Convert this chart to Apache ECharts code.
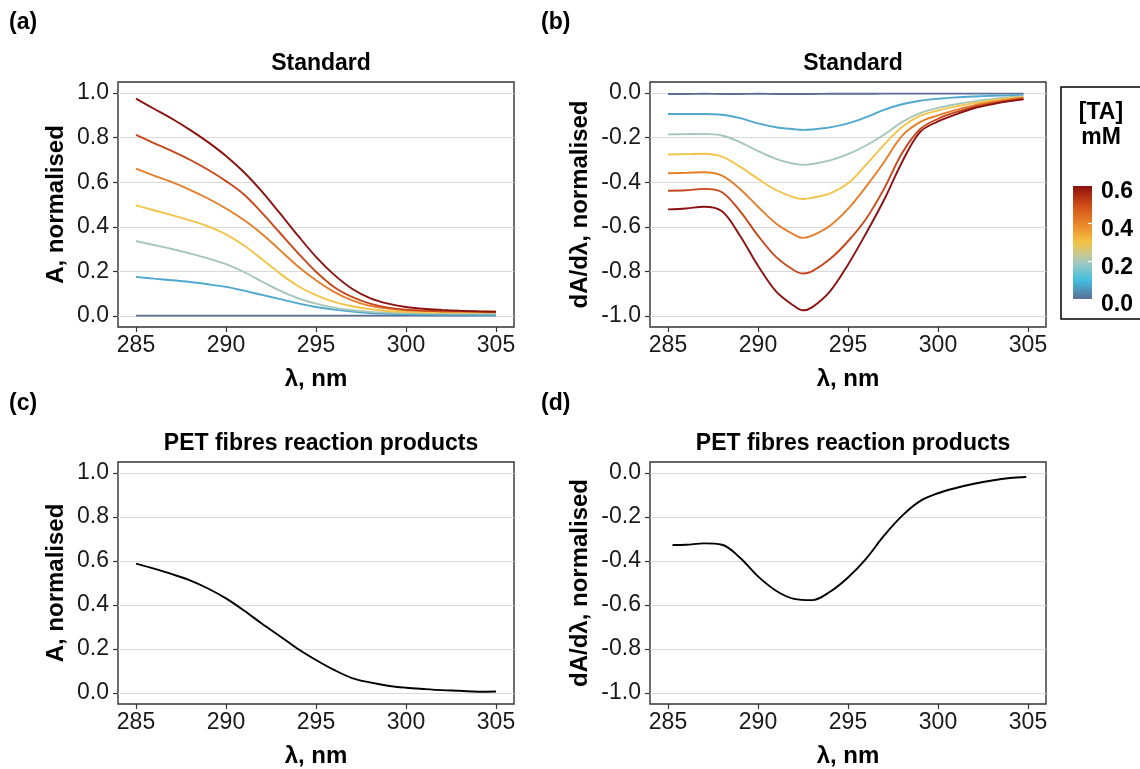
<!DOCTYPE html>
<html>
<head>
<meta charset="utf-8">
<script src="https://cdn.jsdelivr.net/npm/echarts@6/dist/echarts.min.js"></script>
<style>
html,body{margin:0;padding:0;background:#fff;}
#chart{width:1140px;height:769px;}
</style>
</head>
<body>
<div id="chart"></div>
<script>
// ---------- data ----------
const concentrations = [0.0, 0.1, 0.2, 0.3, 0.4, 0.5, 0.6];
const lineColors = ['#5b6e95', '#4fa8cd', '#a6c6b8', '#f3c44a', '#e47e2a', '#c6471c', '#8c1212'];
const barStops = ['#5a6e97', '#42bfe0', '#a8cbbd', '#f3c444', '#ea852a', '#cf4c18', '#8b0f0c'];

const wlA = [285,286,287,288,289,290,291,292,293,294,295,296,297,298,299,300,301,302,303,304,305];
const absA00 = [0.001,0.001,0.001,0.001,0.001,0.001,0.001,0.001,0.001,0.001,0.001,0.001,0.001,0.001,0.001,0.001,0.001,0.001,0.001,0.001,0.001];
const absA01 = [0.175,0.167,0.160,0.152,0.142,0.130,0.113,0.094,0.075,0.056,0.040,0.028,0.019,0.013,0.009,0.007,0.006,0.005,0.005,0.004,0.004];
const absA02 = [0.336,0.318,0.300,0.280,0.258,0.232,0.197,0.154,0.113,0.079,0.055,0.037,0.025,0.018,0.015,0.013,0.012,0.011,0.010,0.010,0.010];
const absA03 = [0.496,0.474,0.452,0.429,0.402,0.366,0.316,0.254,0.190,0.134,0.093,0.063,0.043,0.030,0.022,0.018,0.016,0.015,0.015,0.015,0.015];
const absA04 = [0.661,0.630,0.600,0.566,0.527,0.482,0.430,0.368,0.295,0.222,0.160,0.108,0.070,0.045,0.033,0.025,0.022,0.021,0.020,0.020,0.020];
const absA05 = [0.813,0.776,0.740,0.701,0.656,0.605,0.545,0.462,0.372,0.282,0.198,0.130,0.085,0.055,0.037,0.028,0.024,0.021,0.020,0.019,0.018];
const absA06 = [0.975,0.930,0.885,0.835,0.780,0.718,0.645,0.558,0.460,0.360,0.265,0.185,0.122,0.080,0.055,0.040,0.032,0.027,0.023,0.020,0.018];

const wlB = [285,286,287,288,289,290,291,292,292.5,293,294,295,296,297,298,299,300,301,302,303,304,304.75];
const derB00 = [-0.004,-0.004,-0.003,-0.004,-0.004,-0.003,-0.004,-0.004,-0.004,-0.004,-0.003,-0.003,-0.003,-0.002,-0.002,-0.002,-0.002,-0.002,-0.002,-0.002,-0.002,-0.002];
const derB01 = [-0.094,-0.094,-0.094,-0.097,-0.112,-0.136,-0.153,-0.162,-0.165,-0.163,-0.154,-0.136,-0.108,-0.075,-0.050,-0.034,-0.025,-0.019,-0.015,-0.012,-0.010,-0.008];
const derB02 = [-0.185,-0.184,-0.183,-0.190,-0.220,-0.260,-0.295,-0.317,-0.322,-0.318,-0.302,-0.274,-0.235,-0.187,-0.130,-0.090,-0.066,-0.050,-0.037,-0.027,-0.018,-0.014];
const derB03 = [-0.275,-0.274,-0.272,-0.285,-0.330,-0.385,-0.435,-0.468,-0.475,-0.470,-0.450,-0.405,-0.322,-0.232,-0.152,-0.102,-0.078,-0.060,-0.045,-0.033,-0.023,-0.018];
const derB04 = [-0.360,-0.358,-0.355,-0.370,-0.430,-0.510,-0.585,-0.635,-0.650,-0.640,-0.595,-0.520,-0.420,-0.310,-0.192,-0.130,-0.100,-0.075,-0.055,-0.040,-0.028,-0.022];
const derB05 = [-0.438,-0.436,-0.430,-0.445,-0.530,-0.640,-0.735,-0.795,-0.810,-0.800,-0.745,-0.665,-0.565,-0.430,-0.270,-0.162,-0.115,-0.085,-0.062,-0.046,-0.033,-0.025];
const derB06 = [-0.522,-0.518,-0.510,-0.530,-0.640,-0.775,-0.890,-0.955,-0.975,-0.962,-0.890,-0.770,-0.630,-0.480,-0.310,-0.175,-0.127,-0.095,-0.068,-0.050,-0.036,-0.028];

const wlC = [285,286,287,288,289,290,291,292,293,294,295,296,297,298,299,300,301,302,303,304,305];
const absPET = [0.588,0.565,0.540,0.512,0.475,0.430,0.375,0.315,0.258,0.200,0.150,0.105,0.068,0.048,0.033,0.024,0.018,0.013,0.010,0.006,0.007];

const wlD = [285.25,286,287,288,289,290,291,292,293,294,295,296,297,298,299,300,301,302,303,304,304.9];
const derPET = [-0.327,-0.326,-0.320,-0.326,-0.385,-0.470,-0.535,-0.572,-0.578,-0.540,-0.475,-0.390,-0.285,-0.195,-0.128,-0.092,-0.068,-0.049,-0.034,-0.023,-0.018];

const xTicks = [285, 290, 295, 300, 305];
const yTicksAbs = [0.0, 0.2, 0.4, 0.6, 0.8, 1.0];
const yTicksDer = [-1.0, -0.8, -0.6, -0.4, -0.2, 0.0];
const barTicks = [0.0, 0.2, 0.4, 0.6];
const barInnerTicks = [0.2, 0.4];
const colorbarValue = [0.6];

const absStd = [absA00, absA01, absA02, absA03, absA04, absA05, absA06];
const derStd = [derB00, derB01, derB02, derB03, derB04, derB05, derB06];

// ---------- chart ----------
const FONT = 'Liberation Sans, Arial, sans-serif';
const chart = echarts.init(document.getElementById('chart'), null, {renderer: 'canvas'});

function zip(xs, ys) { return xs.map((x, i) => [x, ys[i]]); }

function xAx(g) {
  return {
    type: 'value', gridIndex: g, min: 284, max: 306, position: 'bottom',
    name: 'λ, nm', nameLocation: 'middle', nameGap: 40,
    nameTextStyle: {fontSize: 24, fontWeight: 'bold', color: '#000', fontFamily: FONT},
    axisLine: {show: false, onZero: false},
    axisTick: {show: true, length: 5, customValues: xTicks, lineStyle: {color: '#333', width: 1.2}},
    axisLabel: {customValues: xTicks, fontSize: 23, color: '#1a1a1a', margin: 7, fontFamily: FONT},
    splitLine: {show: false}
  };
}
function yAx(g, min, max, ticks, name, gap) {
  return {
    type: 'value', gridIndex: g, min: min, max: max, position: 'left',
    name: name, nameLocation: 'middle', nameGap: gap,
    nameTextStyle: {fontSize: 24, fontWeight: 'bold', color: '#000', fontFamily: FONT},
    axisLine: {show: false, onZero: false},
    axisTick: {show: true, length: 5, customValues: ticks, lineStyle: {color: '#333', width: 1.2}},
    axisLabel: {customValues: ticks, fontSize: 23, color: '#1a1a1a', margin: 9, fontFamily: FONT,
      formatter: v => v.toFixed(1)},
    splitLine: {show: true, lineStyle: {color: '#d9d9d9', width: 1.2}}
  };
}

const gridBase = {show: true, borderColor: '#333', borderWidth: 1.4, backgroundColor: 'rgba(0,0,0,0)'};

const series = [];
concentrations.forEach((c, i) => {
  series.push({type: 'line', xAxisIndex: 0, yAxisIndex: 0, data: zip(wlA, absStd[i]),
    showSymbol: false, smooth: 0.35, lineStyle: {color: lineColors[i], width: 1.9}, z: 2 + i, silent: true});
  series.push({type: 'line', xAxisIndex: 1, yAxisIndex: 1, data: zip(wlB, derStd[i]),
    showSymbol: false, smooth: 0.35, lineStyle: {color: lineColors[i], width: 1.9}, z: 2 + i, silent: true});
});
series.push({type: 'line', xAxisIndex: 2, yAxisIndex: 2, data: zip(wlC, absPET),
  showSymbol: false, smooth: 0.35, lineStyle: {color: '#000', width: 1.9}, silent: true});
series.push({type: 'line', xAxisIndex: 3, yAxisIndex: 3, data: zip(wlD, derPET),
  showSymbol: false, smooth: 0.35, lineStyle: {color: '#000', width: 1.9}, silent: true});
// colour bar
series.push({type: 'bar', xAxisIndex: 4, yAxisIndex: 4, data: colorbarValue, barWidth: '100%', silent: true,
  itemStyle: {color: {type: 'linear', x: 0, y: 1, x2: 0, y2: 0,
    colorStops: barStops.map((c, i) => ({offset: i / (barStops.length - 1), color: c}))}}});

const option = {
  animation: false,
  backgroundColor: '#fff',
  textStyle: {fontFamily: FONT},
  title: [
    {text: 'Standard', left: 316, top: 47, textAlign: 'center', textStyle: {fontSize: 23, fontWeight: 'bold', color: '#000', fontFamily: FONT}},
    {text: 'Standard', left: 848, top: 47, textAlign: 'center', textStyle: {fontSize: 23, fontWeight: 'bold', color: '#000', fontFamily: FONT}},
    {text: 'PET fibres reaction products', left: 316, top: 427, textAlign: 'center', textStyle: {fontSize: 23, fontWeight: 'bold', color: '#000', fontFamily: FONT}},
    {text: 'PET fibres reaction products', left: 848, top: 427, textAlign: 'center', textStyle: {fontSize: 23, fontWeight: 'bold', color: '#000', fontFamily: FONT}}
  ],
  grid: [
    Object.assign({left: 118, top: 82, width: 396, height: 245}, gridBase),
    Object.assign({left: 650, top: 82, width: 396, height: 245}, gridBase),
    Object.assign({left: 118, top: 462, width: 396, height: 246}, gridBase),
    Object.assign({left: 650, top: 462, width: 396, height: 246}, gridBase),
    {left: 1073, top: 186, width: 19, height: 113, show: false}
  ],
  xAxis: [xAx(0), xAx(1), xAx(2), xAx(3),
    {type: 'category', gridIndex: 4, data: ['TA'], show: false}],
  yAxis: [
    yAx(0, -0.05, 1.05, yTicksAbs, 'A, normalised', 50),
    yAx(1, -1.05, 0.05, yTicksDer, 'dA/dλ, normalised', 58),
    yAx(2, -0.05, 1.05, yTicksAbs, 'A, normalised', 50),
    yAx(3, -1.05, 0.05, yTicksDer, 'dA/dλ, normalised', 58),
    {type: 'value', gridIndex: 4, min: 0, max: 0.6, position: 'right',
      axisLine: {show: false, onZero: false}, splitLine: {show: false},
      axisTick: {show: true, inside: true, length: 4, customValues: barInnerTicks, lineStyle: {color: '#fff', width: 1.2}},
      axisLabel: {customValues: barTicks, margin: 9,
        formatter: v => '{t|' + v.toFixed(1) + '}',
        rich: {t: {fontSize: 23, fontWeight: 'bold', color: '#000', fontFamily: FONT, padding: [12, 0, 0, 0]}}},
      z: 10}
  ],
  graphic: [
    {type: 'text', left: 9, top: 11, style: {text: '(a)', font: 'bold 23px ' + FONT, fill: '#000'}},
    {type: 'text', left: 541, top: 11, style: {text: '(b)', font: 'bold 23px ' + FONT, fill: '#000'}},
    {type: 'text', left: 9, top: 392, style: {text: '(c)', font: 'bold 23px ' + FONT, fill: '#000'}},
    {type: 'text', left: 541, top: 392, style: {text: '(d)', font: 'bold 23px ' + FONT, fill: '#000'}},
    {type: 'rect', shape: {x: 1061, y: 87, width: 100, height: 232}, style: {fill: 'none', stroke: '#000', lineWidth: 1.5}},
    {type: 'text', x: 1101, y: 113, style: {text: '[TA]', font: 'bold 23px ' + FONT, fill: '#000', align: 'center', verticalAlign: 'middle'}},
    {type: 'text', x: 1101, y: 138, style: {text: 'mM', font: 'bold 23px ' + FONT, fill: '#000', align: 'center', verticalAlign: 'middle'}}
  ],
  series: series
};
chart.setOption(option);
</script>
</body>
</html>
